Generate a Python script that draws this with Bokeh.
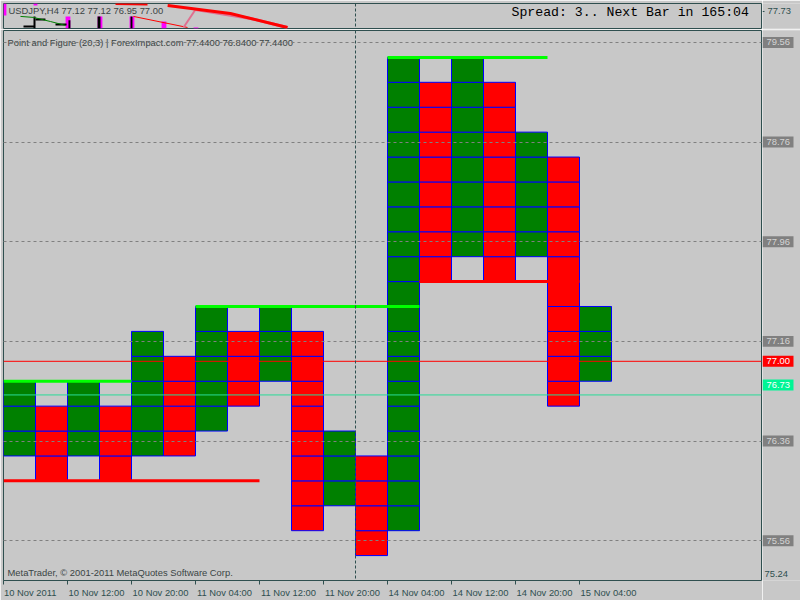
from bokeh.plotting import figure
from bokeh.models import Range1d, FixedTicker, Span, Label, Grid, ColumnDataSource
from bokeh.layouts import column, row
from bokeh.embed import file_html
from bokeh.resources import INLINE
from bokeh.core.properties import value

# ---------------- data ----------------
# Point & Figure columns (box size 0.20, reversal 3)
col_kind = ["X", "O", "X", "O", "X", "O", "X", "O", "X", "O",
            "X", "O", "X", "O", "X", "O", "X", "O", "X"]
col_top = [76.84, 76.64, 76.84, 76.64, 77.24, 77.04, 77.44, 77.24, 77.44, 77.24,
           76.44, 76.24, 79.44, 79.24, 79.44, 79.24, 78.84, 78.64, 77.44]
col_bottom = [76.24, 76.04, 76.24, 76.04, 76.24, 76.24, 76.44, 76.64, 76.84, 75.64,
              75.84, 75.44, 75.64, 77.64, 77.84, 77.64, 77.84, 76.64, 76.84]
box_size = 0.20

# support / resistance lines
line_price = [76.84, 77.44, 79.44, 76.04, 77.64]
line_start = [0, 6, 12, 0, 13]
line_end = [4, 13, 17, 8, 18]
line_kind = ["res", "res", "res", "sup", "sup"]

# price scale
grid_prices = [75.56, 76.36, 77.16, 77.96, 78.76, 79.56]
bottom_price = 75.24
top_price = 79.656
bid_price = 77.00
other_price = 76.73

# time axis
time_ticks = [0, 2, 4, 6, 8, 10, 12, 14, 16, 18]
time_labels = ["10 Nov 2011", "10 Nov 12:00", "10 Nov 20:00", "11 Nov 04:00",
               "11 Nov 12:00", "11 Nov 20:00", "14 Nov 04:00", "14 Nov 12:00",
               "14 Nov 20:00", "15 Nov 04:00"]
separator_col = 11

# mini indicator window (top)
sub_tick = [77.73]
mag_left = [0.0, 0.94, 1.94, 2.94, 3.94, 4.94, 5.94]
mag_right = [0.09, 1.06, 2.09, 3.09, 4.09, 5.09, 6.09]
mag_top = [78.12, 78.12, 77.49, 77.49, 77.49, 77.24, 76.95]
mag_bottom = [77.53, 78.02, 76.90, 76.90, 76.90, 76.90, 76.90]
blk_left = [2.03, 2.94, 3.97]
blk_right = [2.09, 3.03, 4.03]
blk_top = [77.30, 77.49, 77.49]
blk_bottom = [76.90, 76.90, 76.90]
blk_x0 = [0.625, 0.969, 1.0, 1.625]
blk_y0 = [77.00, 77.49, 77.34, 77.10]
blk_x1 = [0.969, 0.969, 1.31, 1.97]
blk_y1 = [77.00, 76.90, 77.34, 77.10]
grn_x = [0.53, 0.94, 1.47, 1.94]
grn_y = [77.49, 77.44, 77.24, 77.05]
red_short_x = [3.5, 4.5]
red_short_y = [78.10, 78.07]
red_thick_x = [5.13, 7.09, 8.875]
red_thick_y = [78.02, 77.63, 76.95]
pink_x = [6.0, 7.72, 8.875]
pink_y = [77.83, 77.39, 76.95]
pink_diag_x = [6.0, 5.625]
pink_diag_y = [77.83, 76.95]
red_thin_x = [4.06, 5.75]
red_thin_y = [77.49, 76.95]

# ---------------- styles ----------------
BG = "#C8C8C8"
FRAME = "#2F4F4F"
GREEN = "#008000"
RED = "#FF0000"
LIME = "#00FF00"
BLUE = "#0000FF"
MINT = "#2ADB98"
MINT_LABEL = "#00F595"
FONT = "Liberation Sans"
FS = "9.4px"
TXT = "#3A4444"
CHAR_W = 0.146             # approx. label width per character (columns)
PX = (top_price - bottom_price) / 552.0   # price per pixel in main window
LABEL_HALF = 5.5           # half height of price label box (px)

x_range = Range1d(0, 758 / 32)

def style(p):
    p.background_fill_color = BG
    p.border_fill_color = BG
    p.grid.visible = False

# ---------------- sub window ----------------
sub = figure(width=762, height=29, x_range=x_range, y_range=Range1d(76.90, 78.12),
             output_backend="svg", toolbar_location=None, x_axis_location=None,
             y_axis_location=None, min_border_left=3, min_border_right=1,
             min_border_top=3, min_border_bottom=1)
style(sub)
sub.outline_line_color = FRAME

sub.quad(left=mag_left, right=mag_right, top=mag_top, bottom=mag_bottom,
         fill_color="#FF00FF", line_color=None)
sub.quad(left=blk_left, right=blk_right, top=blk_top, bottom=blk_bottom,
         fill_color="black", line_color=None)
sub.segment(x0=blk_x0, y0=blk_y0, x1=blk_x1, y1=blk_y1, line_color="black", line_width=2)
sub.line(grn_x, grn_y, line_color=GREEN, line_width=1)
sub.line(red_short_x, red_short_y, line_color=RED, line_width=2)
sub.line(red_thin_x, red_thin_y, line_color=RED, line_width=1)
sub.line(pink_x, pink_y, line_color="#E07090", line_width=3)
sub.line(pink_diag_x, pink_diag_y, line_color="#E07090", line_width=2)
sub.line(red_thick_x, red_thick_y, line_color=RED, line_width=3)
sub.add_layout(Span(location=separator_col, dimension="height", line_color=FRAME,
                    line_dash="3 2", line_width=1))
sub.add_layout(Label(x=0.156, y=77.78, text="USDJPY,H4  77.12 77.12 76.95 77.00",
                     text_font=FONT, text_font_size=FS, text_color=TXT,
                     text_baseline="middle"))
sub.add_layout(Label(x=15.875, y=77.68, text="Spread: 3.. Next Bar in 165:04",
                     text_font="Liberation Mono", text_font_size="13.2px",
                     text_color="black", text_baseline="middle"))

# sub price strip
sub_strip = figure(width=38, height=29, x_range=Range1d(0, 38), y_range=sub.y_range,
                   output_backend="svg", toolbar_location=None, x_axis_location=None,
                   y_axis_location=None, min_border_left=0, min_border_right=0,
                   min_border_top=3, min_border_bottom=1)
style(sub_strip)
sub_strip.outline_line_color = None
sub_strip.segment(x0=0, x1=2, y0=sub_tick, y1=sub_tick, line_color=FRAME, line_width=1)
sub_strip.text(x=5, y=sub_tick, text=[f"{v:.2f}" for v in sub_tick], text_font=value(FONT),
               text_font_size=value(FS), text_color=FRAME, text_baseline="middle")

# ---------------- main window ----------------
main = figure(width=762, height=571, x_range=x_range, y_range=Range1d(bottom_price, top_price),
              output_backend="svg", toolbar_location=None, y_axis_location=None,
              min_border_left=3, min_border_right=1, min_border_top=1, min_border_bottom=18)
style(main)
main.outline_line_color = FRAME

# labels start at their tick: place label centres half a label-width to the right
label_pos = [t + 0.03 + CHAR_W * len(l) / 2 for t, l in zip(time_ticks, time_labels)]
main.xaxis.ticker = FixedTicker(ticks=label_pos, minor_ticks=time_ticks)
main.xaxis.major_label_overrides = {t: l for t, l in zip(label_pos, time_labels)}
main.xaxis.axis_line_color = None
main.xaxis.major_tick_line_color = None
main.xaxis.major_tick_out = 4
main.xaxis.major_tick_in = 0
main.xaxis.minor_tick_line_color = FRAME
main.xaxis.minor_tick_out = 4
main.xaxis.minor_tick_in = 0
main.xaxis.major_label_standoff = 2
main.xaxis.major_label_text_color = FRAME
main.xaxis.major_label_text_font = FONT
main.xaxis.major_label_text_font_size = FS

# P&F boxes
bl, br, bb, bt, bf = [], [], [], [], []
for i, (k, t, b) in enumerate(zip(col_kind, col_top, col_bottom)):
    n = int(round((t - b) / box_size))
    for j in range(n):
        lo = b + j * box_size
        bl.append(i)
        br.append(i + 1)
        bb.append(lo)
        bt.append(lo + box_size)
        bf.append(GREEN if k == "X" else RED)
box_src = ColumnDataSource(dict(left=bl, right=br, bottom=bb, top=bt, fill=bf))
main.quad(left="left", right="right", bottom="bottom", top="top", fill_color="fill",
          line_color=BLUE, line_width=1, source=box_src)

# support / resistance lines
main.segment(x0=line_start, y0=line_price, x1=line_end, y1=line_price,
             line_color=[LIME if k == "res" else RED for k in line_kind], line_width=3)

# dashed price grid drawn over the chart
main.add_layout(Grid(dimension=1, ticker=FixedTicker(ticks=grid_prices),
                     grid_line_color="#808080", grid_line_dash="3 3", level="overlay"))

# current price lines and period separator
main.add_layout(Span(location=bid_price, dimension="width", line_color=RED, line_width=1))
main.add_layout(Span(location=other_price, dimension="width", line_color=MINT, line_width=1))
main.add_layout(Span(location=separator_col, dimension="height", line_color=FRAME,
                     line_dash="3 2", line_width=1))

main.add_layout(Label(x=0.125, y=79.56,
                      text="Point and Figure (20,3) | ForexImpact.com 77.4400 76.8400 77.4400",
                      text_font=FONT, text_font_size=FS, text_color=TXT, text_baseline="middle"))
main.add_layout(Label(x=0.125, y=75.304,
                      text="MetaTrader, \u00a9 2001-2011 MetaQuotes Software Corp.",
                      text_font=FONT, text_font_size=FS, text_color=TXT, text_baseline="middle"))

# main price strip (price labels)
strip = figure(width=38, height=571, x_range=Range1d(0, 38), y_range=main.y_range,
               output_backend="svg", toolbar_location=None, x_axis_location=None,
               y_axis_location=None, min_border_left=0, min_border_right=0,
               min_border_top=1, min_border_bottom=18)
style(strip)
strip.outline_line_color = None

lab_price = grid_prices + [bid_price, other_price]
lab_shift = [0] * len(grid_prices) + [0, 10]          # px the label is raised
lab_fill = ["#808080"] * len(grid_prices) + [RED, MINT_LABEL]
lab_text_col = ["#D4D4D4"] * len(grid_prices) + ["white", "white"]
lab_center = [p + s * PX for p, s in zip(lab_price, lab_shift)]
lab_src = ColumnDataSource(dict(
    top=[c + LABEL_HALF * PX for c in lab_center],
    bottom=[c - LABEL_HALF * PX for c in lab_center],
    y=lab_center, text=[f"{p:.2f}" for p in lab_price],
    fill=lab_fill, tcol=lab_text_col))
strip.quad(left=0, right=31, top="top", bottom="bottom", fill_color="fill",
           line_color=None, source=lab_src)
strip.text(x=4, y="y", text="text", text_color="tcol", text_font=value(FONT),
           text_font_size=value(FS), text_baseline="middle", source=lab_src)
strip.text(x=2, y=[bottom_price], text=[f"{bottom_price:.2f}"], y_offset=-7,
           text_color=FRAME, text_font=value(FONT), text_font_size=value(FS),
           text_baseline="middle")

layout = column(row(sub, sub_strip), row(main, strip))
open("out.html", "w").write(file_html(layout, INLINE, "USDJPY Point and Figure"))
